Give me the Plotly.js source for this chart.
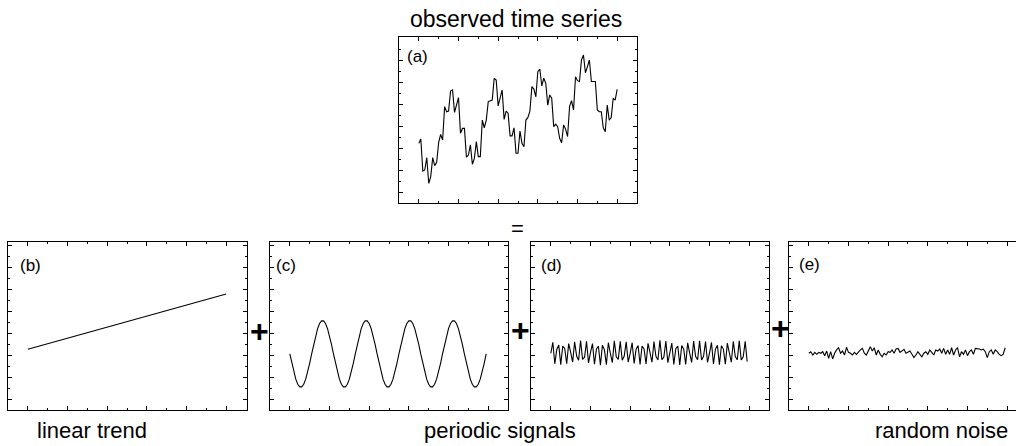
<!DOCTYPE html>
<html>
<head>
<meta charset="utf-8">
<script src="https://cdn.plot.ly/plotly-3.0.1.min.js"></script>
<style>html,body{margin:0;padding:0;background:#fff}#chart{width:1016px;height:446px}</style>
</head>
<body>
<div id="chart"></div>
<script>
// ---- data ----
const observed = [2.71,2.91,1.45,1.50,2.06,0.89,1.20,2.06,1.70,1.85,
2.76,3.12,2.86,4.38,4.15,4.18,5.09,5.14,4.12,4.45,
4.79,3.17,3.39,3.39,2.08,2.18,2.64,1.76,2.03,2.79,
2.11,2.11,3.77,3.42,3.77,4.61,4.64,4.68,5.67,5.59,
4.41,4.76,5.14,3.80,4.18,4.08,3.05,3.05,3.42,2.26,
2.26,3.27,2.71,2.56,3.77,3.89,4.18,5.29,5.18,4.83,
5.97,6.09,5.32,5.67,5.44,4.45,4.91,4.76,3.47,3.58,
3.47,2.94,2.74,3.55,3.36,3.02,4.38,4.65,4.23,5.74,
5.56,5.52,6.50,6.73,5.92,6.20,6.50,5.52,5.52,5.52,
4.23,4.15,4.15,3.42,3.24,4.45,3.77,3.88,4.76,4.68,
5.17];
const trendX = [0, 100];
const trend = [2.76, 5.27];
const periodic1 = [
2.55,2.12,1.73,1.40,1.17,1.05,1.05,1.17,1.40,1.73,2.12,2.55,2.98,3.37,3.70,3.93,4.05,4.05,3.93,3.70,3.37,2.98,
2.55,2.12,1.73,1.40,1.17,1.05,1.05,1.17,1.40,1.73,2.12,2.55,2.98,3.37,3.70,3.93,4.05,4.05,3.93,3.70,3.37,2.98,
2.55,2.12,1.73,1.40,1.17,1.05,1.05,1.17,1.40,1.73,2.12,2.55,2.98,3.37,3.70,3.93,4.05,4.05,3.93,3.70,3.37,2.98,
2.55,2.12,1.73,1.40,1.17,1.05,1.05,1.17,1.40,1.73,2.12,2.55,2.98,3.37,3.70,3.93,4.05,4.05,3.93,3.70,3.37,2.98,
2.55,2.12,1.73,1.40,1.17,1.05,1.05,1.17,1.40,1.73,2.12,2.55];
const periodic2 = [
2.58,3.08,2.10,2.75,2.95,2.06,2.90,2.80,2.10,3.02,2.62,2.18,3.10,2.45,2.26,3.16,2.30,2.40,3.12,2.14,
2.62,3.02,2.08,2.78,2.90,2.04,2.94,2.74,2.06,3.06,2.58,2.15,3.14,2.42,2.30,3.12,2.26,2.45,3.10,2.18,
2.57,3.06,2.12,2.76,2.93,2.07,2.91,2.78,2.09,3.03,2.61,2.17,3.11,2.44,2.27,3.17,2.29,2.41,3.13,2.15,
2.60,3.04,2.07,2.79,2.91,2.05,2.93,2.76,2.07,3.05,2.59,2.16,3.13,2.43,2.29,3.14,2.27,2.44,3.11,2.17,
2.59,3.07,2.09,2.77,2.94,2.06,2.92,2.77,2.08,3.04,2.60,2.17,3.12,2.43,2.28,3.15,2.28,2.42,3.12,2.20];
const noise = [
2.58,2.65,2.50,2.62,2.53,2.62,2.58,2.65,2.47,2.68,
2.35,2.65,2.32,2.58,2.73,2.83,2.58,2.68,2.50,2.85,
2.62,2.58,2.50,2.62,2.53,2.65,2.73,2.80,2.58,2.50,
2.73,2.88,2.68,2.83,2.50,2.73,2.53,2.42,2.58,2.50,
2.65,2.62,2.73,2.58,2.77,2.80,2.62,2.68,2.76,2.58,
2.65,2.68,2.53,2.38,2.50,2.65,2.53,2.42,2.58,2.65,
2.53,2.73,2.62,2.50,2.73,2.68,2.77,2.58,2.80,2.53,
2.73,2.53,2.83,2.50,2.73,2.83,2.42,2.65,2.53,2.73,
2.47,2.65,2.73,2.53,2.80,2.80,2.77,2.73,2.77,2.65,
2.38,2.65,2.73,2.53,2.73,2.65,2.53,2.47,2.53,2.83];
const panelLabels = ['(a)','(b)','(c)','(d)','(e)'];
const titleText = 'observed time series';
const bottomLabels = ['linear trend','periodic signals','random noise'];

const idx = n => Array.from({length:n},(_,i)=>i);

// ---- layout helpers ----
const W = 1016, H = 446;
const px = v => v / W;
const py = v => 1 - v / H;
const FONT = 'Liberation Sans, Arial, sans-serif';

function xa(l, r, range, anchor) {
  return {domain:[px(l), px(r)], range: range, anchor: anchor, showgrid:false, zeroline:false,
    showline:true, linecolor:'#000', linewidth:1, mirror:'allticks', ticks:'inside', ticklen:4,
    tickcolor:'#000', tickwidth:1, tickmode:'linear', tick0:0, dtick:20, showticklabels:false, fixedrange:true,
    minor:{ticks:'inside', ticklen:2, tickcolor:'#000', tickwidth:1, tickmode:'linear', tick0:0, dtick:10}};
}
function ya(t, b, top, anchor, mirror) {
  return {domain:[py(b), py(t)], range:[0, top], anchor: anchor, showgrid:false, zeroline:false,
    showline:true, linecolor:'#000', linewidth:1, mirror: mirror, ticks:'inside', ticklen:4,
    tickcolor:'#000', tickwidth:1, tickmode:'linear', tick0:0.5, dtick:1, showticklabels:false, fixedrange:true,
    minor:{ticks:'inside', ticklen:2, tickcolor:'#000', tickwidth:1, tickmode:'linear', tick0:0, dtick:0.5}};
}

const line = {color:'#000', width:1.1};
const traces = [
  {x: idx(observed.length), y: observed, xaxis:'x', yaxis:'y', mode:'lines', line},
  {x: trendX, y: trend, xaxis:'x2', yaxis:'y2', mode:'lines', line},
  {x: idx(periodic1.length), y: periodic1, xaxis:'x3', yaxis:'y3', mode:'lines', line},
  {x: idx(periodic2.length), y: periodic2, xaxis:'x4', yaxis:'y4', mode:'lines', line},
  {x: idx(noise.length), y: noise, xaxis:'x5', yaxis:'y5', mode:'lines', line}
];

const bTop = 242, bBot = 410, bRange = (bBot - bTop) / 22;
const layout = {
  width: W, height: H, margin:{l:0,r:0,t:0,b:0}, showlegend:false,
  paper_bgcolor:'#fff', plot_bgcolor:'#fff', font:{family: FONT, color:'#000'},
  xaxis: xa(399, 637, [-10,110], 'y'),
  yaxis: ya(37, 203, (203-37)/22, 'x', 'allticks'),
  xaxis2: xa(8, 247, [-10,110.5], 'y2'),
  yaxis2: ya(bTop, bBot, bRange, 'x2', 'allticks'),
  xaxis3: xa(270, 508, [-10,110], 'y3'),
  yaxis3: ya(bTop, bBot, bRange, 'x3', 'allticks'),
  xaxis4: xa(531, 769, [-10,110], 'y4'),
  yaxis4: ya(bTop, bBot, bRange, 'x4', 'allticks'),
  xaxis5: xa(789, 1016, [-10, -10 + 227/1.983], 'y5'),
  yaxis5: ya(bTop, bBot, bRange, 'x5', false),
  annotations: []
};

function ann(text, x, y, size, xanchor, bold) {
  layout.annotations.push({text: bold ? '<b>'+text+'</b>' : text, x: px(x), y: py(y), xref:'paper', yref:'paper',
    showarrow:false, xanchor: xanchor, yanchor:'middle', font:{family: FONT, size: size, color:'#000'}});
}
ann(titleText, 516, 19, 23, 'center');
ann(panelLabels[0], 405, 56, 17, 'left');
ann(panelLabels[1], 18, 265, 17, 'left');
ann(panelLabels[2], 274, 265, 17, 'left');
ann(panelLabels[3], 539, 265, 17, 'left');
ann(panelLabels[4], 797, 264, 17, 'left');
ann('=', 517, 228, 22, 'center');
ann('+', 259, 331, 32, 'center', true);
ann('+', 520, 330, 32, 'center', true);
ann('+', 780, 328, 32, 'center', true);
ann(bottomLabels[0], 92, 430, 22, 'center');
ann(bottomLabels[1], 500, 430, 22, 'center');
ann(bottomLabels[2], 941, 430, 22, 'center');

Plotly.newPlot('chart', traces, layout, {staticPlot:true, displayModeBar:false});
</script>
</body>
</html>
